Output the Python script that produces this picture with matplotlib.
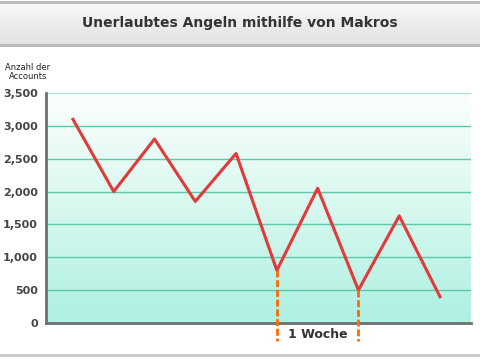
import numpy as np
import matplotlib.pyplot as plt
from matplotlib.colors import LinearSegmentedColormap

title = 'Unerlaubtes Angeln mithilfe von Makros'
y_label = 'Anzahl der\nAccounts'
accounts = [3100, 2000, 2800, 1850, 2580, 800, 2050, 500, 1630, 400]
week_marks = [5, 7]
week_text = '1 Woche'
y_ticks = [0, 500, 1000, 1500, 2000, 2500, 3000, 3500]

x = np.arange(len(accounts))

fig = plt.figure(figsize=(4.8, 3.6), dpi=100)

### TITLE BAND
tax = fig.add_axes([0, 1 - 45 / 360, 1, 43 / 360])
band = LinearSegmentedColormap.from_list('band', ['#fbfbfb', '#ececec', '#e4e4e4'])
tax.imshow(np.linspace(0, 1, 50).reshape(-1, 1), cmap=band, aspect='auto',
           extent=[0, 1, 0, 1], origin='upper')
tax.set_xlim(0, 1)
tax.set_ylim(0, 1)
tax.axis('off')
tax.text(0.5, 0.5, title, ha='center', va='center', fontsize=10,
         fontweight='semibold', color='#333333')
fig.add_artist(plt.Line2D([0, 1], [1 - 2 / 360] * 2, color='#b8b8b8', lw=2))
fig.add_artist(plt.Line2D([0, 1], [1 - 45 / 360] * 2, color='#b8b8b8', lw=2))
fig.add_artist(plt.Line2D([0, 1], [5 / 360] * 2, color='#c8c8c8', lw=2))

### MAIN PLOT
ax = fig.add_axes([46 / 480, 37 / 360, 425 / 480, 230 / 360])
bg = LinearSegmentedColormap.from_list('bg', ['#aef0e2', '#d8f8ef', '#fbfefd'])
ax.imshow(np.linspace(0, 1, 100).reshape(-1, 1), cmap=bg, aspect='auto',
          extent=[-0.66, 9.76, 0, 3500], origin='lower', zorder=0)
for t in y_ticks[1:-1]:
    ax.axhline(t, color='#5ccaa6', lw=1, zorder=1)
ax.axhline(y_ticks[-1], color='#a8e6d2', lw=1, zorder=1)

ax.plot(x, accounts, color='#e03a3a', lw=2.2, zorder=3)

for w in week_marks:
    ax.plot([w, w], [accounts[w], -270], color='#ff6a00', lw=2,
            linestyle=(0, (2.5, 1)), clip_on=False, zorder=4)
ax.text((week_marks[0] + week_marks[1]) / 2, -180, week_text, ha='center',
        va='center', fontsize=9, fontweight='semibold', color='#333333')

ax.set_xlim(-0.66, 9.76)
ax.set_ylim(0, 3500)
ax.set_xticks([])
ax.set_yticks(y_ticks)
ax.set_yticklabels(['{:,}'.format(t) for t in y_ticks])
ax.tick_params(axis='y', length=0, pad=6, labelsize=8, labelcolor='#444444')
for lbl in ax.get_yticklabels():
    lbl.set_fontweight('bold')
for s in ['top', 'right']:
    ax.spines[s].set_visible(False)
for s in ['left', 'bottom']:
    ax.spines[s].set_color('#707070')
    ax.spines[s].set_linewidth(2)

fig.text(28 / 480, 1 - 72 / 360, y_label, ha='center', va='center',
         fontsize=6, color='#222222', linespacing=1.0)

fig.savefig('out.png', dpi=100)
